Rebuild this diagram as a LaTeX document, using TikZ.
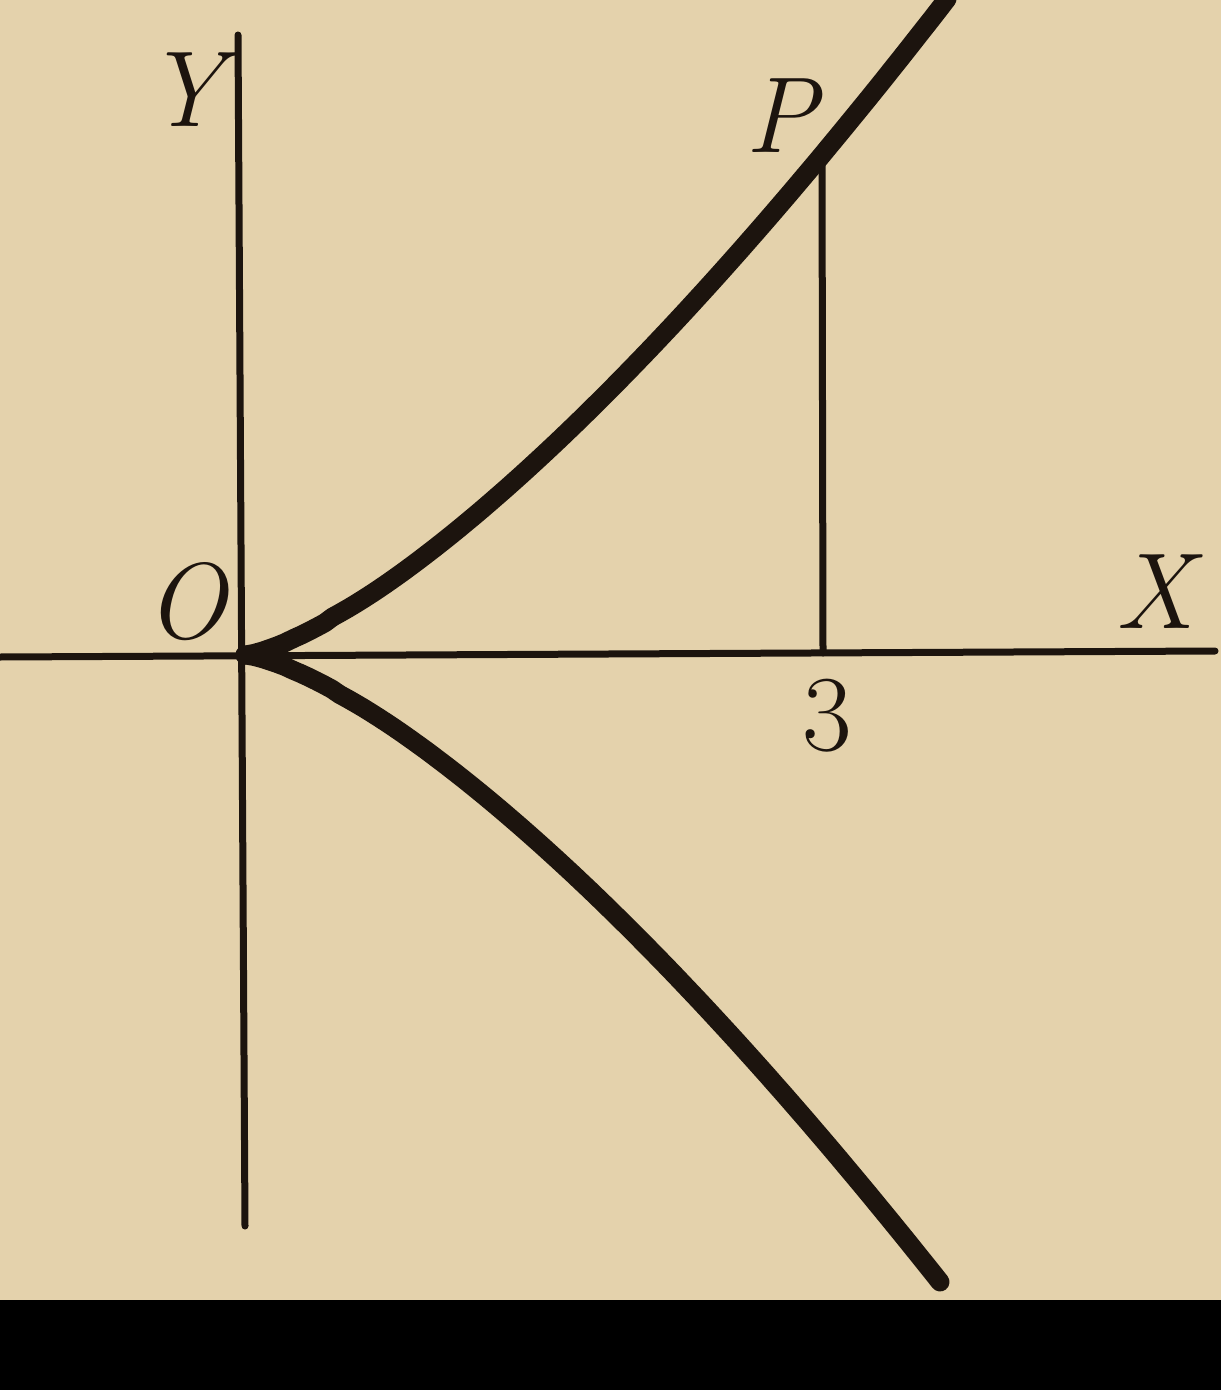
\documentclass[tikz,border=0pt]{standalone}
\usepackage{fontspec}
\definecolor{paper}{HTML}{E4D2AC}
\definecolor{ink}{HTML}{1C140E}
\begin{document}
\begin{tikzpicture}[x=0.5pt, y=-0.5pt, line cap=round,
	axis/.style={line width=3.5pt, draw=ink},
	branch/.style={line width=9.5pt, draw=ink},
	lbl/.style={inner sep=0pt, text=ink, font=\fontsize{54}{60}\selectfont\itshape},
	num/.style={inner sep=0pt, text=ink, font=\fontsize{54}{60}\selectfont\normalfont}]
	% Paper and the dark strip at the bottom
	\fill[paper] (0,0) rectangle (1221,1300);
	\fill[black] (0,1300) rectangle (1221,1390);
	\useasboundingbox (0,0) rectangle (1221,1390);
	
	% Draw the coordinate axes
	\coordinate (O) at (245,655);
	\coordinate (xl) at (0,657);
	\coordinate (xr) at (1215,651);
	\coordinate (yt) at (238,35);
	\coordinate (yb) at (245,1226);
	\draw[axis] (xl) -- (xr);
	\draw[axis] (yt) -- (yb);
	
	% Ordinate of P at x = 3
	\coordinate (foot) at (823,653);
	\coordinate (P) at (822,162);
	\draw[axis] (foot) -- (P);
	
	% Upper and lower branch, meeting in a cusp at O
	\draw[branch] (O) -- plot[domain=1:702, samples=90] ({245+\x}, {655-647*(\x/695)^1.386});
	\draw[branch] (O) -- plot[domain=1:695, samples=90] ({245+\x}, {655+627*(\x/695)^1.40});
	
	% Labels
	\node[lbl] (ylab) at (185,90) {Y};
	\node[lbl] (plab) at (781,116) {P};
	\node[lbl] (olab) at (186,602) {O};
	\node[lbl] (xlab) at (1155,592) {X};
	\node[num] (three) at (827,716) {3};
\end{tikzpicture}
\end{document}
